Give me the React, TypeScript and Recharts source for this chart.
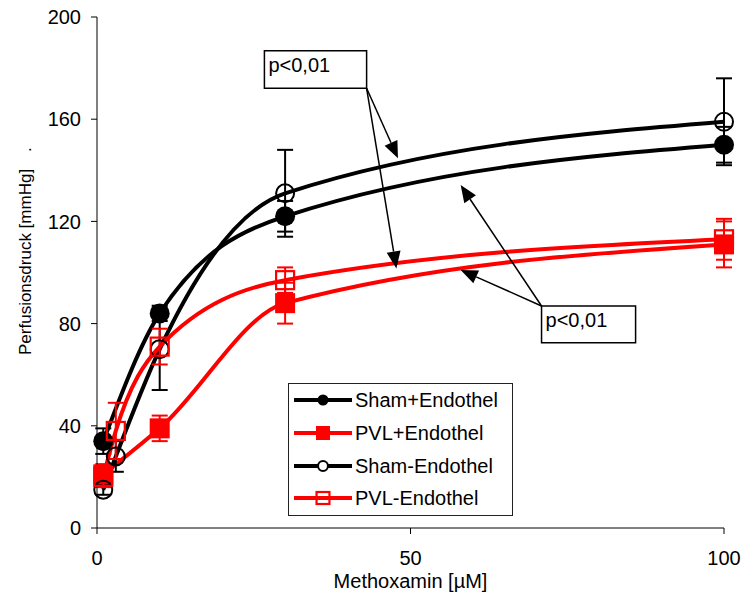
import React from 'react'
import {
  LineChart,
  Line,
  XAxis,
  YAxis,
  ErrorBar,
  Legend,
  ReferenceArea,
  ReferenceLine,
} from 'recharts'

// dose-response: perfusion pressure vs. methoxamine concentration
const doses = [1, 3, 10, 30, 100]
const shamPlus = [34, null, 84, 122, 150]
const shamPlusSem = [5, null, 3, 6, 7]
const pvlPlus = [21, null, 39, 88, 111]
const pvlPlusSem = [4, null, 5, 8, 9]
const shamMinus = [15, 28, 70, 131, 159]
const shamMinusSem = [2, 6, 16, 17, 17]
const pvlMinus = [20, 38, 71, 97, 113]
const pvlMinusSem = [4, 11, 7, 5, 8]

const xTicks = [0, 50, 100]
const yTicks = [0, 40, 80, 120, 160, 200]

const BLACK = '#000000'
const RED = '#ff0000'
const FONT = 'Arial, "Liberation Sans", sans-serif'

const rows = doses.map((dose, i) => ({
  dose,
  shamPlus: shamPlus[i],
  shamPlusSem: shamPlusSem[i],
  pvlPlus: pvlPlus[i],
  pvlPlusSem: pvlPlusSem[i],
  shamMinus: shamMinus[i],
  shamMinusSem: shamMinusSem[i],
  pvlMinus: pvlMinus[i],
  pvlMinusSem: pvlMinusSem[i],
}))

type MarkerKind = 'circle' | 'square' | 'openCircle' | 'openSquare'

function marker(kind: MarkerKind, color: string, cx: number, cy: number, big: boolean, key?: any) {
  const s = big ? 1 : 0.55
  if (kind === 'circle') return <circle key={key} cx={cx} cy={cy} r={10 * s} fill={color} />
  if (kind === 'openCircle')
    return <circle key={key} cx={cx} cy={cy} r={9 * s} fill={big ? 'none' : '#fff'} stroke={color} strokeWidth={2} />
  if (kind === 'square') {
    const h = 10 * s + (big ? 0 : 1.5)
    return <rect key={key} x={cx - h} y={cy - h} width={2 * h} height={2 * h} fill={color} />
  }
  const w = 9 * s + (big ? 0 : 1.5)
  const h = (big ? 9 : 6)
  return (
    <rect key={key} x={cx - w} y={cy - h} width={2 * w} height={2 * h} fill="none" stroke={color} strokeWidth={2.2} />
  )
}

const dotOf = (kind: MarkerKind, color: string) => (p: any) => {
  if (p.cy == null || p.value == null) return <g key={p.key} />
  return marker(kind, color, p.cx, p.cy, true, p.key)
}

const series = [
  { key: 'shamPlus', name: 'Sham+Endothel', color: BLACK, kind: 'circle' as MarkerKind },
  { key: 'pvlPlus', name: 'PVL+Endothel', color: RED, kind: 'square' as MarkerKind },
  { key: 'shamMinus', name: 'Sham-Endothel', color: BLACK, kind: 'openCircle' as MarkerKind },
  { key: 'pvlMinus', name: 'PVL-Endothel', color: RED, kind: 'openSquare' as MarkerKind },
]

function LegendBox() {
  const rowY = [16, 49, 82, 114]
  return (
    <div
      style={{
        boxSizing: 'border-box',
        width: 225,
        height: 133,
        border: '1.5px solid #222',
        background: '#fff',
      }}
    >
      <svg width={222} height={130} style={{ display: 'block' }}>
        {series.map((s, i) => (
          <g key={s.key}>
            <line x1={5} x2={63} y1={rowY[i]} y2={rowY[i]} stroke={s.color} strokeWidth={4} />
            {marker(s.kind, s.color, 34, rowY[i], false)}
            <text x={66} y={rowY[i]} dy="0.36em" fontSize={20} fontFamily={FONT} fill="#000">
              {s.name}
            </text>
          </g>
        ))}
      </svg>
    </div>
  )
}

// text inside the significance boxes
const BoxText = (props: any) => {
  const { x, y } = props.viewBox
  return (
    <text x={x + 4} y={y + 21} fontSize={20} fontFamily={FONT} fill="#000">
      {'p<0,01'}
    </text>
  )
}

// thin line with a filled triangular head at (x2, y2)
const Arrow = (props: any) => {
  const { x1, y1, x2, y2 } = props
  const dx = x2 - x1
  const dy = y2 - y1
  const len = Math.sqrt(dx * dx + dy * dy)
  const ux = dx / len
  const uy = dy / len
  const hl = 17
  const hw = 7
  const bx = x2 - ux * hl
  const by = y2 - uy * hl
  const pts = `${x2},${y2} ${bx - uy * hw},${by + ux * hw} ${bx + uy * hw},${by - ux * hw}`
  return (
    <g>
      <line x1={x1} y1={y1} x2={bx} y2={by} stroke="#000" strokeWidth={1.5} />
      <polygon points={pts} fill="#000" />
    </g>
  )
}

const YTitle = () => (
  <text
    x={31}
    y={355}
    transform="rotate(-90, 31, 355)"
    fontSize={17}
    fontFamily={FONT}
    fill="#000"
  >
    Perfusionsdruck [mmHg]
    <tspan dx={17}>.</tspan>
  </text>
)

const topBox = { x1: 26.7, x2: 43, y1: 172.1, y2: 186.8 }
const bottomBox = { x1: 70.9, x2: 85.9, y1: 72.5, y2: 86.9 }

export default function App() {
  return (
    <div style={{ position: 'absolute', left: 0, top: 0, background: '#fff' }}>
      <LineChart
        width={745}
        height={594}
        data={rows}
        margin={{ top: 17, right: 21, bottom: 0, left: 0 }}
      >
        <XAxis
          dataKey="dose"
          type="number"
          domain={[0, 100]}
          ticks={xTicks}
          interval={0}
          height={66}
          stroke="#000"
          tickSize={6}
          tickMargin={17}
          tick={{ fill: '#000', fontSize: 20, fontFamily: FONT }}
          label={{
            value: 'Methoxamin [µM]',
            position: 'insideBottom',
            offset: 6,
            fill: '#000',
            fontSize: 20,
            fontFamily: FONT,
          }}
        />
        <YAxis
          type="number"
          domain={[0, 200]}
          ticks={yTicks}
          interval={0}
          width={97}
          stroke="#000"
          tickSize={6}
          tickMargin={10}
          tick={{ fill: '#000', fontSize: 20, fontFamily: FONT }}
          label={<YTitle />}
        />
        <Legend
          layout="vertical"
          verticalAlign="middle"
          align="center"
          wrapperStyle={{ left: 288, top: 383, width: 225, height: 133 }}
          content={() => <LegendBox />}
        />
        {series.map((s) => (
          <Line
            key={s.key}
            dataKey={s.key}
            name={s.name}
            type="monotone"
            stroke={s.color}
            strokeWidth={4}
            connectNulls
            dot={dotOf(s.kind, s.color)}
            activeDot={false}
            isAnimationActive={false}
          >
            <ErrorBar
              dataKey={s.key + 'Sem'}
              direction="y"
              width={8}
              stroke={s.color}
              strokeWidth={2}
              isAnimationActive={false}
            />
          </Line>
        ))}
        <ReferenceArea {...topBox} fill="#fff" fillOpacity={1} stroke="#000" strokeWidth={1.5} label={<BoxText />} />
        <ReferenceArea {...bottomBox} fill="#fff" fillOpacity={1} stroke="#000" strokeWidth={1.5} label={<BoxText />} />
        <ReferenceLine segment={[{ x: 43, y: 172.1 }, { x: 48, y: 144.7 }]} shape={Arrow} />
        <ReferenceLine segment={[{ x: 43, y: 172.1 }, { x: 47.75, y: 101.6 }]} shape={Arrow} />
        <ReferenceLine segment={[{ x: 70.9, y: 86.9 }, { x: 58, y: 134.2 }]} shape={Arrow} />
        <ReferenceLine segment={[{ x: 70.9, y: 86.9 }, { x: 58, y: 101 }]} shape={Arrow} />
      </LineChart>
    </div>
  )
}
